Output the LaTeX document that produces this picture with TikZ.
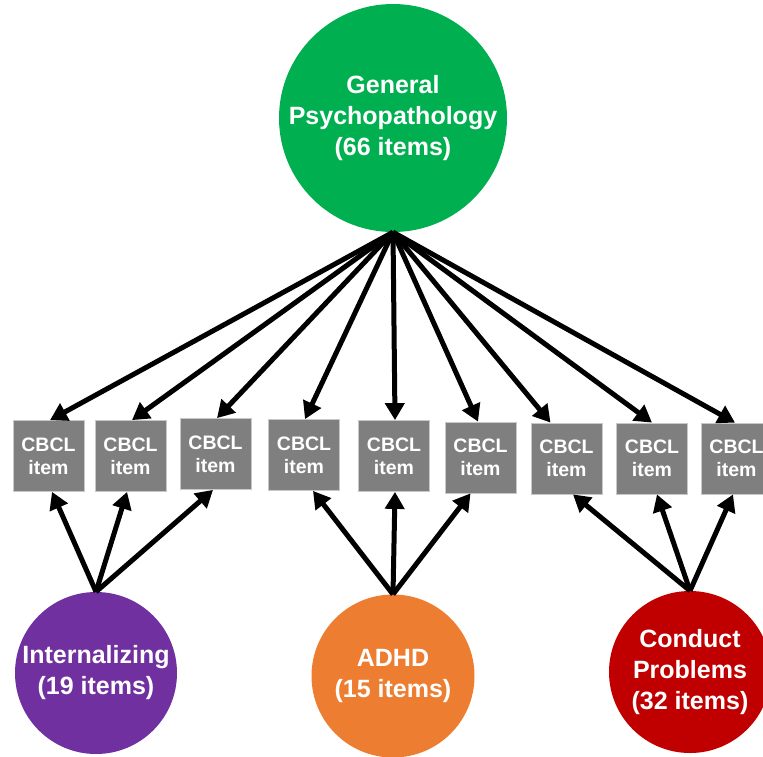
\documentclass[tikz,border=0pt]{standalone}
\usepackage{fontspec}
\setmainfont{Liberation Sans}
\usetikzlibrary{arrows.meta}
\definecolor{cgreen}{HTML}{00B050}
\definecolor{cpurple}{HTML}{7030A0}
\definecolor{corange}{HTML}{ED7D31}
\definecolor{cred}{HTML}{C00000}
\definecolor{cgray}{HTML}{7F7F7F}
\definecolor{cedge}{HTML}{C8C8C8}
\tikzset{
  factor/.style={circle, inner sep=0pt, align=center, text=white,
    font=\fontsize{25}{31}\selectfont\bfseries},
  itembox/.style={rectangle, fill=cgray, draw=cedge, line width=0.8pt,
    minimum width=71pt, minimum height=71pt, inner sep=0pt, align=center,
    text=white, font=\fontsize{19.5}{23}\selectfont\bfseries},
  load/.style={line width=5pt, -{Triangle[length=17pt,width=19pt]}}
}
\begin{document}
\begin{tikzpicture}[x=1pt,y=-1pt]
\useasboundingbox (0,0) rectangle (763,756);
\node[factor, fill=cgreen, minimum size=228pt] (g) at (393,118) {General\\Psychopathology\\(66 items)};
\node[factor, fill=cpurple, minimum size=162pt] (p) at (96,673) {Internalizing\\(19 items)};
\node[factor, fill=corange, minimum size=163pt] (o) at (393,676) {ADHD\\(15 items)};
\node[factor, fill=cred, minimum size=162pt] (r) at (690,672) {Conduct\\Problems\\(32 items)};

\node[itembox] (b1) at (48.5,456) {CBCL\\item};
\node[itembox] (b2) at (130.5,456) {CBCL\\item};
\node[itembox] (b3) at (215.5,454) {CBCL\\item};
\node[itembox] (b4) at (304,455) {CBCL\\item};
\node[itembox] (b5) at (394,456) {CBCL\\item};
\node[itembox] (b6) at (480.5,457.5) {CBCL\\item};
\node[itembox] (b7) at (566.5,458.5) {CBCL\\item};
\node[itembox] (b8) at (652,458.5) {CBCL\\item};
\node[itembox] (b9) at (736.5,458.5) {CBCL\\item};

% general factor loadings
\draw[load] (g.south) -- ([xshift=1.5pt]b1.north);
\draw[load] (g.south) -- ([xshift=1.5pt]b2.north);
\draw[load] (g.south) -- ([xshift=1.5pt]b3.north);
\draw[load] (g.south) -- ([xshift=1pt]b4.north);
\draw[load] (g.south) -- ([xshift=1pt]b5.north);
\draw[load] (g.south) -- ([xshift=-2.5pt]b6.north);
\draw[load] (g.south) -- ([xshift=-16pt]b7.north);
\draw[load] (g.south) -- (b8.north);
\draw[load] (g.south) -- ([xshift=-1.5pt]b9.north);

% specific factor loadings
\draw[load] (p.north) -- ([xshift=3.5pt]b1.south);
\draw[load] (p.north) -- ([xshift=-3.5pt]b2.south);
\draw[load] (p.north) -- ([xshift=-2.5pt]b3.south);
\draw[load] (o.north) -- ([xshift=9pt]b4.south);
\draw[load] (o.north) -- ([xshift=1pt]b5.south);
\draw[load] (o.north) -- ([xshift=-10pt]b6.south);
\draw[load] (r.north) -- ([xshift=6.5pt]b7.south);
\draw[load] (r.north) -- ([xshift=5pt]b8.south);
\draw[load] (r.north) -- ([xshift=-3.5pt]b9.south);
\end{tikzpicture}
\end{document}
